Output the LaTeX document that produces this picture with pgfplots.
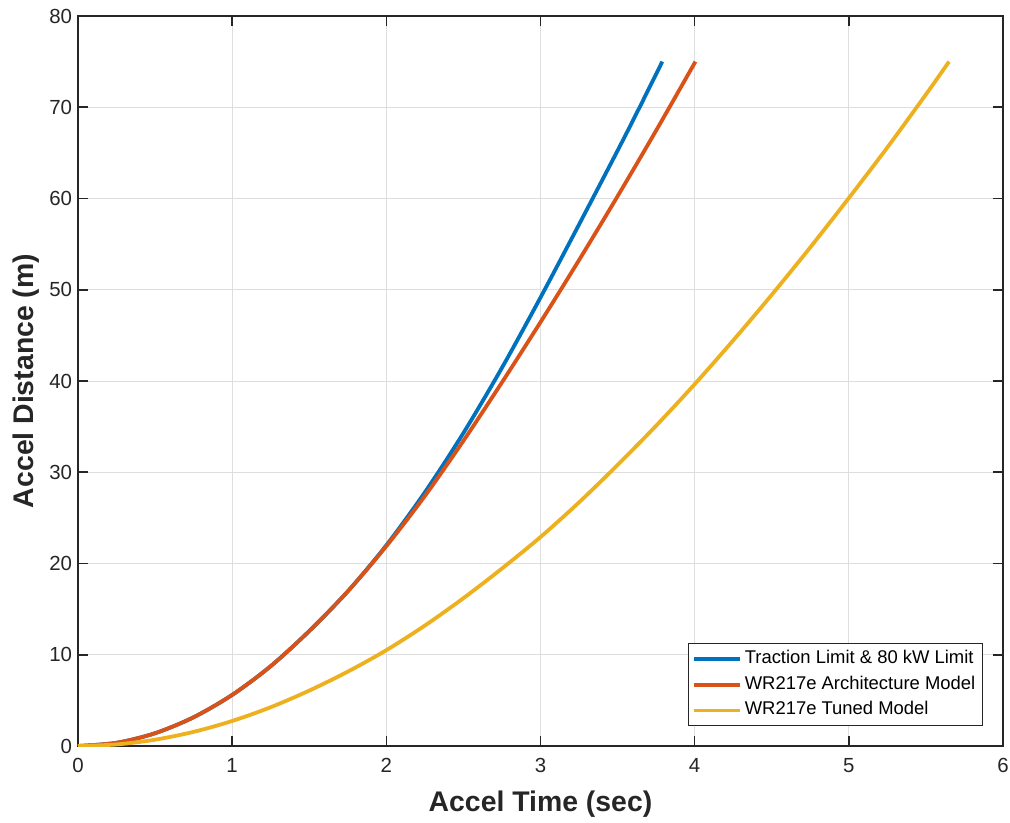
\documentclass[border=0pt]{standalone}
\usepackage{fontspec}
\setmainfont{Liberation Sans}
\usepackage{pgfplots}
\pgfplotsset{compat=1.18}
\definecolor{mblue}{rgb}{0,0.447,0.741}
\definecolor{morange}{rgb}{0.85,0.325,0.098}
\definecolor{myellow}{rgb}{0.929,0.694,0.125}
\begin{document}
\begin{tikzpicture}
\begin{axis}[
 name=ax, at={(0,0)}, anchor=south west,
 scale only axis, width=925bp, height=730bp,
 xmin=0, xmax=6, ymin=0, ymax=80,
 xtick={0,1,2,3,4,5,6}, ytick={0,10,20,30,40,50,60,70,80},
 grid=major, major grid style={draw=black!13, line width=1bp},
 axis line style={draw=black!85, line width=1.6bp},
 tick style={draw=black!85, line width=1.6bp},
 major tick length=10bp,
 tick align=inside,
 /pgf/number format/assume math mode=true,
 ticklabel style={font=\fontsize{20.5}{24}\selectfont, text=black!85},
 xticklabel style={yshift=-8.5bp},
 yticklabel style={xshift=-2.5bp},
 xlabel={Accel Time (sec)}, ylabel={Accel Distance (m)},
 label style={font=\fontsize{28.5}{34}\selectfont\bfseries, text=black!85},
 xlabel style={at={(axis description cs:0.5,-0.0904)}, anchor=base},
 ylabel style={at={(axis description cs:-0.04865,0.5)}, anchor=base},
 legend style={at={(axis description cs:1,0)}, anchor=south east, xshift=-20.3bp, yshift=20bp,
   draw=black!85, line width=0.8bp, inner xsep=4bp, inner ysep=2.3bp,
   font=\fontsize{18.5}{22}\selectfont, text=black,
   nodes={inner xsep=3bp, inner ysep=4.4bp, text height=13bp, text depth=4bp},
   row sep=0pt, cells={anchor=west}},
 legend image code/.code={\draw[#1] (0bp,0bp) -- (46bp,0bp);},
 every axis plot/.append style={line width=3.8bp, line join=round, smooth},
]
\addplot[mblue] coordinates {
(0,0) (0.25,0.35) (0.5,1.4) (0.75,3.15) (1.0,5.6) (1.25,8.75) (1.5,12.6) (1.75,16.95) (2.0,22.0)
(2.25,27.8) (2.5,34.3) (2.75,41.45) (3.0,49.15) (3.25,57.15) (3.5,65.25) (3.64,69.9) (3.79,75.0)};
\addlegendentry{Traction Limit \& 80 kW Limit}
\addplot[morange] coordinates {
(0,0) (0.25,0.35) (0.5,1.4) (0.75,3.15) (1.0,5.6) (1.25,8.75) (1.5,12.6) (1.75,16.95) (2.0,21.9)
(2.25,27.4) (2.5,33.45) (2.75,39.85) (3.0,46.45) (3.25,53.25) (3.5,60.25) (3.75,67.45) (4.005,75.0)};
\addlegendentry{WR217e Architecture Model}
\addplot[myellow] coordinates {
(0,0) (0.25,0.17) (0.5,0.69) (0.75,1.55) (1.0,2.74) (1.25,4.25) (1.5,6.07) (1.75,8.15) (2.0,10.5)
(2.25,13.2) (2.5,16.2) (2.75,19.45) (3.0,22.9) (3.25,26.7) (3.5,30.8) (3.75,35.1) (4.0,39.65)
(4.25,44.45) (4.5,49.45) (4.75,54.65) (5.0,60.05) (5.25,65.6) (5.5,71.4) (5.65,75.0)};
\addlegendentry{WR217e Tuned Model}
\end{axis}
\pgfresetboundingbox
\path[use as bounding box] (-78bp,-77bp) rectangle (932bp,746bp);
\end{tikzpicture}
\end{document}
